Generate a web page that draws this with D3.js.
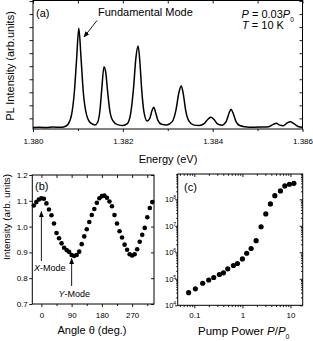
<!DOCTYPE html>
<html>
<head>
<meta charset="utf-8">
<script src="https://cdn.jsdelivr.net/npm/d3@7"></script>
<style>
  body { margin: 0; background: #fff; }
  svg { font-family: Arial, 'Liberation Sans', sans-serif; }
  .axis path.domain { display: none; }
  .axis line { stroke: #000; stroke-width: 0.9; }
  .axis text { font-size: 8px; fill: #000; font-family: Arial, 'Liberation Sans', sans-serif; }
</style>
</head>
<body>
<svg class="figSVG" width="313" height="341"></svg>
<script>
// ---- (a) PL spectrum at P = 0.03 P0, T = 10 K ----
const specEnergy = [
  1.38000, 1.38015, 1.38030, 1.38045, 1.38060, 1.38070, 1.38078, 1.38086, 1.38092, 1.38097,
  1.38102, 1.38107, 1.38112, 1.38119, 1.38128, 1.38138, 1.38144, 1.38149, 1.38153, 1.38158,
  1.38162, 1.38166, 1.38171, 1.38178, 1.38188, 1.38200, 1.38210, 1.38218, 1.38224, 1.38229,
  1.38234, 1.38238, 1.38242, 1.38247, 1.38254, 1.38260, 1.38265, 1.38269, 1.38273, 1.38278,
  1.38286, 1.38298, 1.38310, 1.38318, 1.38325, 1.38330, 1.38334, 1.38340, 1.38347, 1.38357,
  1.38370, 1.38381, 1.38390, 1.38396, 1.38402, 1.38410, 1.38420, 1.38430, 1.38437, 1.38441,
  1.38446, 1.38452, 1.38460, 1.38472, 1.38490, 1.38508, 1.38525, 1.38535, 1.38542, 1.38549,
  1.38557, 1.38566, 1.38573, 1.38580, 1.38590, 1.38600
];
const specInt = [
  0.30, 0.32, 0.29, 0.33, 0.31, 0.36, 0.55, 1.30, 3.00, 5.50,
  7.91, 5.60, 3.00, 1.30, 0.65, 0.50, 0.70, 1.60, 3.20, 4.96,
  4.50, 3.10, 1.60, 0.80, 0.52, 0.45, 0.60, 1.50, 3.40, 5.60,
  6.55, 5.30, 3.20, 1.50, 0.80, 1.00, 1.60, 1.85, 1.45, 0.85,
  0.55, 0.50, 0.75, 1.60, 3.00, 3.48, 3.00, 1.60, 0.80, 0.50,
  0.45, 0.60, 0.95, 1.08, 0.95, 0.60, 0.48, 0.75, 1.45, 1.69,
  1.35, 0.75, 0.45, 0.36, 0.32, 0.33, 0.36, 0.54, 0.62, 0.48,
  0.44, 0.65, 0.74, 0.62, 0.38, 0.31
];
const energyTicks = [1.380, 1.382, 1.384, 1.386];
const energyMinor = [1.381, 1.383, 1.385];

// ---- (b) polarisation dependence ----
const angleDeg = [
  -22.5, -15, -7.5, 0, 7.5, 15, 22.5, 30, 37.5, 45, 52.5, 60, 67.5, 75, 82.5, 90,
  97.5, 105, 112.5, 120, 127.5, 135, 142.5, 150, 157.5, 165, 172.5, 180, 187.5, 195,
  202.5, 210, 217.5, 225, 232.5, 240, 247.5, 255, 262.5, 270, 277.5, 285, 292.5, 300,
  307.5, 315, 322.5, 330
];
const angleInt = [
  1.082, 1.095, 1.105, 1.110, 1.108, 1.090, 1.066, 1.044, 1.012, 0.975, 0.955, 0.935,
  0.918, 0.909, 0.902, 0.890, 0.886, 0.890, 0.903, 0.932, 0.962, 0.990, 1.018, 1.045,
  1.068, 1.092, 1.110, 1.118, 1.120, 1.112, 1.097, 1.079, 1.045, 1.012, 0.982, 0.958,
  0.930, 0.910, 0.893, 0.888, 0.893, 0.912, 0.941, 0.968, 0.995, 1.036, 1.072, 1.095
];
const angleTicks = [0, 90, 180, 270];
const angleMinor = [45, 135, 225, 315];
const intTicksB = [0.7, 0.8, 0.9, 1.0, 1.1, 1.2];

// ---- (c) pump power dependence ----
const pumpPower = [
  0.076, 0.105, 0.149, 0.199, 0.253, 0.332, 0.403, 0.496, 0.650, 0.788, 1.00,
  1.23, 1.52, 1.93, 2.45, 3.07, 3.83, 4.73, 6.19, 7.64, 9.53, 11.8
];
const pumpInt = [
  3.0e4, 4.2e4, 6.8e4, 9.0e4, 1.12e5, 1.45e5, 1.68e5, 2.38e5, 3.18e5, 3.78e5, 5.6e5,
  9.2e5, 1.39e6, 2.74e6, 9.2e6, 2.8e7, 6.7e7, 1.37e8, 2.06e8, 3.2e8, 3.7e8, 4.0e8
];
const powerTicks = [0.1, 1, 10];
const powerTickLabels = ['0.1', '1', '10'];
const decadeExps = [4, 5, 6, 7, 8];

const svg = d3.select('svg.figSVG');

// arrow head used by the annotations
svg.append('defs').append('marker')
  .attr('id', 'arrowHead')
  .attr('viewBox', '0 0 10 10')
  .attr('refX', 9).attr('refY', 5)
  .attr('markerWidth', 6).attr('markerHeight', 6)
  .attr('markerUnits', 'userSpaceOnUse')
  .attr('orient', 'auto')
  .append('path')
  .attr('d', 'M0,1 L10,5 L0,9 Z')
  .attr('fill', '#000');

// draws an axis group (ticks only, no domain line)
function addAxis(axisGen, tx, ty){
  return svg.append('g')
    .attr('class', 'axis')
    .attr('transform', `translate(${tx},${ty})`)
    .call(axisGen);
}

function drawFrame(x0, x1, y0, y1){
  svg.append('rect')
    .attr('x', x0).attr('y', y0)
    .attr('width', x1 - x0).attr('height', y1 - y0)
    .attr('fill', 'none')
    .attr('stroke', '#000')
    .attr('stroke-width', 1);
}

// ================= panel (a) =================
const xA = d3.scaleLinear().domain([1.380, 1.386]).range([33, 302.5]);
const yA = d3.scaleLinear().domain([0.184, 10.04]).range([129, 0.5]);
const intTicksA = d3.range(1, 11);

addAxis(d3.axisBottom(xA).tickValues(energyTicks).tickFormat(d3.format('.3f'))
  .tickSizeInner(3).tickSizeOuter(0).tickPadding(6), 0, 129);
addAxis(d3.axisBottom(xA).tickValues(energyMinor).tickFormat('')
  .tickSizeInner(2).tickSizeOuter(0), 0, 129);
addAxis(d3.axisTop(xA).tickValues(energyTicks.concat(energyMinor)).tickFormat('')
  .tickSizeInner(-3).tickSizeOuter(0), 0, 0.5);
addAxis(d3.axisLeft(yA).tickValues(intTicksA).tickFormat('')
  .tickSizeInner(3.5).tickSizeOuter(0), 33, 0);
addAxis(d3.axisRight(yA).tickValues(intTicksA).tickFormat('')
  .tickSizeInner(-3).tickSizeOuter(0), 302.5, 0);

const specLine = d3.line()
  .x(i => xA(specEnergy[i]))
  .y(i => yA(specInt[i]))
  .curve(d3.curveMonotoneX);

svg.append('path')
  .attr('class', 'specLine')
  .attr('d', specLine(d3.range(specEnergy.length)))
  .attr('fill', 'none')
  .attr('stroke', '#000')
  .attr('stroke-width', 1.5)
  .attr('stroke-linejoin', 'round');

drawFrame(33, 302.5, 0.5, 129);

svg.append('text').attr('x', 36).attr('y', 16.5)
  .style('font-size', '11px').text('(a)');

svg.append('text').attr('x', 98).attr('y', 15.5)
  .style('font-size', '11px').text('Fundamental Mode');
svg.append('line')
  .attr('x1', 97).attr('y1', 20.5).attr('x2', 84).attr('y2', 37)
  .attr('stroke', '#000').attr('stroke-width', 0.9)
  .attr('marker-end', 'url(#arrowHead)');

const condText = svg.append('text').attr('x', 241.5).attr('y', 17.5).style('font-size', '11px');
condText.append('tspan').style('font-style', 'italic').text('P');
condText.append('tspan').text(' = 0.03');
condText.append('tspan').style('font-style', 'italic').text('P');
condText.append('tspan').attr('dy', 4).style('font-size', '6.5px').text('0');

const tempText = svg.append('text').attr('x', 242).attr('y', 29).style('font-size', '11px');
tempText.append('tspan').style('font-style', 'italic').text('T');
tempText.append('tspan').text(' = 10 K');

svg.append('text').attr('x', 168).attr('y', 163)
  .attr('text-anchor', 'middle').style('font-size', '11px').text('Energy (eV)');
svg.append('text')
  .attr('transform', 'translate(13.5,66) rotate(-90)')
  .attr('text-anchor', 'middle').style('font-size', '11px')
  .text('PL Intensity (arb.units)');

// ================= panel (b) =================
const xB = d3.scaleLinear().domain([-27, 335]).range([32.3, 154]);
const yB = d3.scaleLinear().domain([0.7, 1.2]).range([304, 175]);

addAxis(d3.axisBottom(xB).tickValues(angleTicks).tickFormat(d3.format('d'))
  .tickSizeInner(3).tickSizeOuter(0).tickPadding(5), 0, 304);
addAxis(d3.axisBottom(xB).tickValues(angleMinor).tickFormat('')
  .tickSizeInner(2).tickSizeOuter(0), 0, 304);
addAxis(d3.axisTop(xB).tickValues(angleTicks.concat(angleMinor)).tickFormat('')
  .tickSizeInner(-3).tickSizeOuter(0), 0, 175);
addAxis(d3.axisLeft(yB).tickValues(intTicksB).tickFormat(d3.format('.1f'))
  .tickSizeInner(3).tickSizeOuter(0).tickPadding(1.5), 32.3, 0);
addAxis(d3.axisRight(yB).tickValues(intTicksB).tickFormat('')
  .tickSizeInner(-3).tickSizeOuter(0), 154, 0);

svg.append('g').attr('class', 'angleDots')
  .selectAll('circle')
  .data(d3.range(angleDeg.length))
  .enter()
  .append('circle')
  .attr('cx', i => xB(angleDeg[i]))
  .attr('cy', i => yB(angleInt[i]))
  .attr('r', 2.3)
  .attr('fill', '#000');

drawFrame(32.3, 154, 175, 304);

svg.append('text').attr('x', 35).attr('y', 190)
  .style('font-size', '11px').text('(b)');

// X / Y mode markers
svg.append('line')
  .attr('x1', xB(0)).attr('y1', 261).attr('x2', xB(0)).attr('y2', 211.5)
  .attr('stroke', '#000').attr('stroke-width', 0.9)
  .attr('marker-end', 'url(#arrowHead)');
const xMode = svg.append('text').attr('x', 34).attr('y', 270.5).style('font-size', '9px');
xMode.append('tspan').style('font-style', 'italic').text('X');
xMode.append('tspan').text('-Mode');

svg.append('line')
  .attr('x1', xB(90)).attr('y1', 286).attr('x2', xB(90)).attr('y2', 258.5)
  .attr('stroke', '#000').attr('stroke-width', 0.9)
  .attr('marker-end', 'url(#arrowHead)');
const yMode = svg.append('text').attr('x', 58.5).attr('y', 297).style('font-size', '9px');
yMode.append('tspan').style('font-style', 'italic').text('Y');
yMode.append('tspan').text('-Mode');

svg.append('text').attr('x', 92).attr('y', 334)
  .attr('text-anchor', 'middle').style('font-size', '11px').text('Angle \u03b8 (deg.)');
svg.append('text')
  .attr('transform', 'translate(9.5,217) rotate(-90)')
  .attr('text-anchor', 'middle').style('font-size', '9.8px')
  .text('Intensity (arb. units)');

// ================= panel (c) =================
const xC = d3.scaleLog().domain([0.045, 18]).range([177.7, 302.7]);
const yC = d3.scaleLog().domain([1e4, 9e8]).range([305.3, 174]);

// minor tick positions for the log axes
const xMinorC = [];
[0.01, 0.1, 1, 10].forEach(b => d3.range(2, 10).forEach(m => {
  const v = b * m;
  if (v >= 0.045 && v <= 18) xMinorC.push(v);
}));
const yMajorC = [1e4, 1e5, 1e6, 1e7, 1e8];
const yMinorC = [];
yMajorC.forEach(b => d3.range(2, 10).forEach(m => {
  if (b * m <= 9e8) yMinorC.push(b * m);
}));

addAxis(d3.axisBottom(xC).tickValues(powerTicks).tickFormat((d, i) => powerTickLabels[i])
  .tickSizeInner(3).tickSizeOuter(0).tickPadding(4), 0, 305.3);
addAxis(d3.axisBottom(xC).tickValues(xMinorC).tickFormat('')
  .tickSizeInner(1.8).tickSizeOuter(0), 0, 305.3);
addAxis(d3.axisTop(xC).tickValues(powerTicks).tickFormat('')
  .tickSizeInner(-3).tickSizeOuter(0), 0, 174);
addAxis(d3.axisTop(xC).tickValues(xMinorC).tickFormat('')
  .tickSizeInner(-1.8).tickSizeOuter(0), 0, 174);
addAxis(d3.axisLeft(yC).tickValues(yMajorC).tickFormat('')
  .tickSizeInner(2.5).tickSizeOuter(0), 177.7, 0);
addAxis(d3.axisLeft(yC).tickValues(yMinorC).tickFormat('')
  .tickSizeInner(1.5).tickSizeOuter(0), 177.7, 0);
addAxis(d3.axisRight(yC).tickValues(yMajorC).tickFormat('')
  .tickSizeInner(-3).tickSizeOuter(0), 302.7, 0);
addAxis(d3.axisRight(yC).tickValues(yMinorC).tickFormat('')
  .tickSizeInner(-1.8).tickSizeOuter(0), 302.7, 0);

// 10^n labels
const decLabels = svg.append('g').attr('class', 'decLabels')
  .selectAll('text')
  .data(decadeExps)
  .enter()
  .append('text')
  .attr('x', 165)
  .attr('y', d => yC(Math.pow(10, d)) + 3)
  .style('font-size', '7.5px');
decLabels.append('tspan').text('10');
decLabels.append('tspan').attr('dy', -3).style('font-size', '5px').text(d => d);

svg.append('g').attr('class', 'powerDots')
  .selectAll('circle')
  .data(d3.range(pumpPower.length))
  .enter()
  .append('circle')
  .attr('cx', i => xC(pumpPower[i]))
  .attr('cy', i => yC(pumpInt[i]))
  .attr('r', 2.6)
  .attr('fill', '#000');

drawFrame(177.7, 302.7, 174, 305.3);

svg.append('text').attr('x', 184).attr('y', 190.5)
  .style('font-size', '11px').text('(c)');

const pumpTitle = svg.append('text').attr('x', 198).attr('y', 335).style('font-size', '11.5px');
pumpTitle.append('tspan').text('Pump Power ');
pumpTitle.append('tspan').style('font-style', 'italic').text('P');
pumpTitle.append('tspan').text('/');
pumpTitle.append('tspan').style('font-style', 'italic').text('P');
pumpTitle.append('tspan').attr('dy', 3.5).style('font-size', '7px').text('0');
</script>
</body>
</html>
